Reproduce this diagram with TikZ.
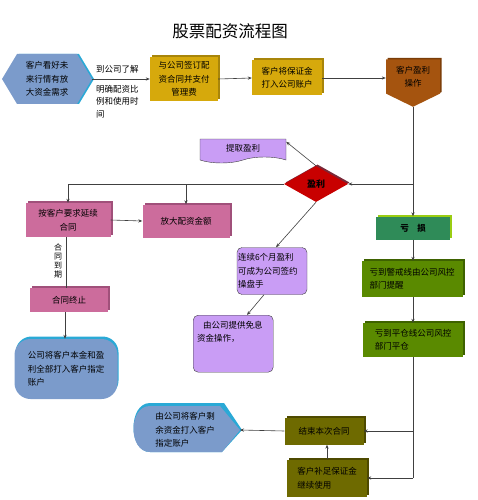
\documentclass[tikz,border=0pt]{standalone}
\usepackage{fontspec}
\setmainfont{Noto Sans CJK SC}
\usetikzlibrary{arrows.meta,shapes.geometric,shapes.symbols,shadows}

\definecolor{hexblue}{HTML}{7B9BCB}
\definecolor{edgecyan}{HTML}{2AA9D6}
\definecolor{gold}{HTML}{D6A90C}
\definecolor{goldD}{HTML}{A8850A}
\definecolor{rust}{HTML}{A5540F}
\definecolor{rustD}{HTML}{7A3C08}
\definecolor{lilac}{HTML}{C99DF5}
\definecolor{rose}{HTML}{CC6C9C}
\definecolor{roseD}{HTML}{A0507A}
\definecolor{redd}{HTML}{C80000}
\definecolor{reddD}{HTML}{7A2838}
\definecolor{lossgreen}{HTML}{2F8B58}
\definecolor{lime}{HTML}{9ACD12}
\definecolor{warngreen}{HTML}{5A8A00}
\definecolor{warngreenD}{HTML}{3E6200}
\definecolor{khaki}{HTML}{6E6A00}
\definecolor{khakiD}{HTML}{4E4A00}
\definecolor{linegray}{HTML}{404040}

\newcommand\flowfont{\fontsize{8.5}{13.5}\selectfont}

\tikzset{
  flow/.style={font=\flowfont, align=center, inner sep=1pt},
  flowline/.style={draw=linegray, line width=0.6pt},
  tip/.style={-{Stealth[length=4pt,width=3.2pt]}},
  box3d/.style 2 args={flow, fill=#1,
    general shadow={fill=#2, shadow xshift=2pt, shadow yshift=2pt}},
  roundbox/.style={flow, align=left, fill=lilac, draw=linegray,
    line width=0.4pt, rounded corners=5pt},
}

\begin{document}
\begin{tikzpicture}[x=1pt,y=-1pt]

    % パラメータの定義
    \pgfmathsetmacro{\W}{477}
    \pgfmathsetmacro{\H}{500}
    \pgfmathsetmacro{\xL}{68}
    \pgfmathsetmacro{\xR}{413}
    \pgfmathsetmacro{\yA}{79}
    \pgfmathsetmacro{\yD}{184}

    \useasboundingbox (0,0) rectangle (\W,\H);

    % タイトル
    \node[font=\fontsize{16.5}{18}\selectfont] (title) at (230,31) {股票配资流程图};

    % 上段のノード
    \node[flow, signal, signal to=west and east, signal pointer angle=118,
          fill=hexblue, minimum width=90pt, minimum height=50pt,
          general shadow={fill=edgecyan, shadow xshift=2pt}]
          (need) at (47,\yA) {客户看好未\\来行情有放\\大资金需求};
    \node[box3d={gold}{goldD}, minimum width=68pt, minimum height=44pt]
          (sign) at (184,\yA) {与公司签订配\\资合同并支付\\管理费};
    \node[box3d={gold}{goldD}, minimum width=70pt, minimum height=35pt]
          (deposit) at (287,78) {客户将保证金\\打入公司账户};
    \node[flow, signal, signal to=south, signal pointer angle=128,
          fill=rust, minimum width=54pt, minimum height=43pt,
          general shadow={fill=rustD, shadow xshift=1.5pt, shadow yshift=1.5pt}]
          (trade) at (\xR,76.5) {客户盈利\\操作};

    \node[flow, anchor=west] (ask) at (95,69) {到公司了解};
    \node[flow, anchor=north west, align=left, font=\fontsize{8.5}{12.5}\selectfont]
          (ratio) at (95,84) {明确配资比\\例和使用时\\间};

    % 盈利の分岐
    \node[flow, diamond, aspect=1.8, minimum width=64pt, minimum height=36pt,
          inner sep=0pt, fill=redd, font=\bfseries\fontsize{9}{10}\selectfont,
          general shadow={fill=reddD, shadow xshift=1.5pt, shadow yshift=1.5pt}]
          (profit) at (316,\yD) {盈利};
    \node[flow, tape, tape bend top=none, tape bend height=6pt, fill=lilac,
          draw=linegray, line width=0.4pt, minimum width=86pt, minimum height=24pt]
          (take) at (243,148) {提取盈利};
    \node[box3d={rose}{roseD}, minimum width=85pt, minimum height=34pt]
          (extend) at (\xL,220) {按客户要求延续\\合同};
    \node[box3d={rose}{roseD}, minimum width=87pt, minimum height=33pt]
          (enlarge) at (186,221) {放大配资金额};
    \node[flow, font=\fontsize{8}{8.8}\selectfont] (expire) at (58,261) {合\\同\\到\\期};
    \node[box3d={rose}{roseD}, minimum width=78pt, minimum height=24pt]
          (stop) at (69,300) {合同终止};
    \node[flow, align=left, fill=hexblue, rounded corners=16pt,
          minimum width=103pt, minimum height=60pt,
          general shadow={fill=edgecyan, shadow xshift=1pt, shadow yshift=2.5pt}]
          (payout) at (66,369) {公司将客户本金和盈\\利全部打入客户指定\\账户\hspace{5.5em}};
    \node[roundbox, text width=68pt, minimum height=47pt]
          (trader) at (272,271) {连续6个月盈利\\可成为公司签约\\操盘手};
    \node[roundbox, anchor=north west, text width=72pt, inner sep=4pt,
          text height=9pt, text depth=40pt]
          (free) at (193,315) {\hspace*{6pt}由公司提供免息\\资金操作，};

    % 亏损の流れ
    \node[box3d={lossgreen}{lime}, font=\bfseries\flowfont, minimum width=74pt, minimum height=23pt]
          (loss) at (\xR,228) {亏\quad 损};
    \node[box3d={warngreen}{warngreenD}, align=left, minimum width=101pt, minimum height=36pt]
          (warn) at (412,279) {亏到警戒线由公司风控\\部门提醒};
    \node[box3d={warngreen}{warngreenD}, align=left, minimum width=100pt, minimum height=34pt]
          (closeout) at (\xR,340) {亏到平仓线公司风控\\部门平仓\hspace{4.5em}};
    \node[box3d={khaki}{khakiD}, minimum width=79pt, minimum height=27pt]
          (endc) at (324,431) {结束本次合同};
    \node[box3d={khaki}{khakiD}, align=left, minimum width=80pt, minimum height=37pt]
          (topup) at (327,478) {客户补足保证金\\继续使用\hspace{3em}};

    % 返金の図形
    \coordinate (rtip) at (240,430);
    \fill[edgecyan] (150,403) -- (224,403) -- ([xshift=2pt]rtip) -- (222,452) -- (150,452)
        .. controls (128,452) and (128,403) .. cycle;
    \fill[hexblue] (150,406) -- (220,406) -- (rtip) -- (222,452) -- (150,452)
        .. controls (128,452) and (128,406) .. cycle;
    \node[flow, align=left] (refund) at (185,430) {由公司将客户剩\\余资金打入客户\\指定账户\hspace{3em}};

    % 矢印の描画
    \draw[flowline,tip] (need.east) -- (sign.west);
    \draw[flowline,tip] (sign.east) -- (deposit.west);
    \draw[flowline,tip] (deposit.east) -- (deposit.east -| trade.west);
    \coordinate (fork) at (\xR,\yD);
    \draw[flowline,tip] (trade.south) -- (loss.north);
    \draw[flowline,tip] (fork) -- (profit.east);
    \draw[flowline,tip] (profit.north) -- ([yshift=-3pt]take.north east);
    \draw[flowline,tip] (profit.west) -| (extend.north);
    \draw[flowline,tip] (enlarge.north |- profit.west) -- (enlarge.north);
    \draw[flowline,tip] (extend.east) -- (enlarge.west);
    \draw[flowline] ([xshift=-2pt]extend.south) -- ([xshift=-2pt]extend.south |- stop.north);
    \draw[flowline,tip] ([xshift=-4pt]stop.south) -- ([xshift=-4pt]stop.south |- payout.north);
    \draw[flowline,tip] (profit.south) -- ([xshift=4pt]trader.north);
    \draw[flowline,tip] ([xshift=-8pt]trader.south) -- ([xshift=54pt]free.north west);
    \draw[flowline,tip] (loss.south) -- (loss.south |- warn.north);
    \draw[flowline,tip] (warn.south -| closeout.north) -- (closeout.north);
    \coordinate (low) at (closeout.south |- topup.east);
    \draw[flowline] (closeout.south) -- (low);
    \draw[flowline,tip] (low) -- (topup.east);
    \draw[flowline,tip] (closeout.south |- endc.east) -- (endc.east);
    \draw[flowline,tip] (topup.north) -- (topup.north |- endc.south);
    \draw[flowline,tip] (endc.west) -- (rtip);

\end{tikzpicture}
\end{document}
